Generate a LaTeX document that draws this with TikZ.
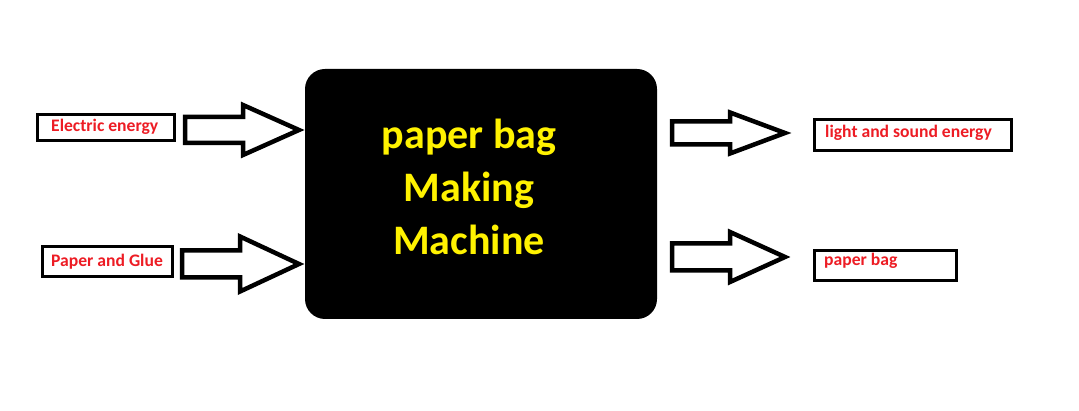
\documentclass[tikz,border=0pt]{standalone}
\usepackage{fontspec}
\setmainfont{Carlito}
\usepackage{xcolor}
\usetikzlibrary{positioning}
\definecolor{paintred}{RGB}{237,28,36}
\definecolor{paintyellow}{RGB}{255,242,0}
\tikzset{
  iobox/.style={draw, line width=3pt, inner sep=0pt},
  iolabel/.style={text=paintred, font=\fontsize{17.6}{20}\selectfont\bfseries, inner sep=0pt, anchor=base west},
  fatarrow/.style={draw, line width=4.5pt, fill=white, line join=miter}
}
\begin{document}
\begin{tikzpicture}[x=1pt,y=-1pt]
  \fill[white] (0,0) rectangle (1079,411);
  % the machine
  \node[fill=black, rounded corners=20pt, minimum width=352pt, minimum height=250pt] (machine) at (481,194) {};
  \node[text=paintyellow, font=\fontsize{42}{53}\selectfont\bfseries, align=center] (title) at (469,187) {paper bag\\Making\\Machine};
  % inputs
  \node[iobox, minimum width=137pt, minimum height=26pt] (elec) at (106,127.5) {};
  \node[iolabel] (eleclbl) at (51,132) {Electric energy};
  \node[iobox, minimum width=130pt, minimum height=30pt] (paper) at (107.5,261.5) {};
  \node[iolabel] (paperlbl) at (51,267) {Paper and Glue};
  % outputs
  \node[iobox, minimum width=197pt, minimum height=31pt] (light) at (913,135) {};
  \node[iolabel] (lightlbl) at (825,138) {light and sound energy};
  \node[iobox, minimum width=142pt, minimum height=30pt] (bag) at (885.5,265.5) {};
  \node[iolabel] (baglbl) at (824,265.5) {paper bag};
  % block arrows
  \coordinate (in1) at (185,130);
  \coordinate (in2) at (182,264);
  \coordinate (out1) at (672,133);
  \coordinate (out2) at (672,257);
  \draw[fatarrow] (in1) ++(0,-13) -- ++(58,0) -- ++(0,-12) -- ++(56,25) -- ++(-56,25) -- ++(0,-12) -- ++(-58,0) -- cycle;
  \draw[fatarrow] (in2) ++(0,-13.5) -- ++(58,0) -- ++(0,-14) -- ++(59,27.5) -- ++(-59,27.5) -- ++(0,-14) -- ++(-58,0) -- cycle;
  \draw[fatarrow] (out1) ++(0,-11.5) -- ++(58,0) -- ++(0,-9) -- ++(55,20.5) -- ++(-55,20.5) -- ++(0,-9) -- ++(-58,0) -- cycle;
  \draw[fatarrow] (out2) ++(0,-13.5) -- ++(58,0) -- ++(0,-11.5) -- ++(55,25) -- ++(-55,25) -- ++(0,-11.5) -- ++(-58,0) -- cycle;
\end{tikzpicture}
\end{document}
